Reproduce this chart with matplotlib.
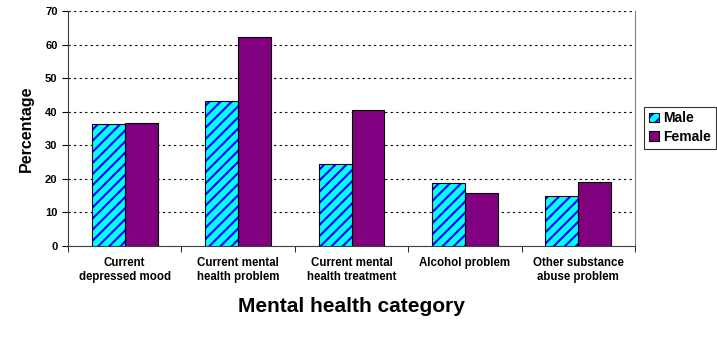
import matplotlib.pyplot as plt
import numpy as np

plt.rcParams['font.family'] = ['Liberation Sans', 'DejaVu Sans']
plt.rcParams['hatch.linewidth'] = 1.5

categories = ["Current\ndepressed mood", "Current mental\nhealth problem",
              "Current mental\nhealth treatment", "Alcohol problem",
              "Other substance\nabuse problem"]
male = [36.3, 43.3, 24.5, 18.7, 15.0]
female = [36.6, 62.4, 40.6, 15.7, 19.2]

fig = plt.figure(figsize=(7.17, 3.44), dpi=100)
ax = fig.add_axes([68 / 717, 1 - 246 / 344, (635 - 68) / 717, (246 - 11) / 344])

x = np.arange(len(categories))
w = 0.29
# hatched fill with blue stripes, then black outline on top
male_fill = ax.bar(x - w / 2, male, w, color='#00FFFF', edgecolor='#0000FF',
                   linewidth=0, hatch='///', zorder=3)
male_edge = ax.bar(x - w / 2, male, w, fill=False, edgecolor='black',
                   linewidth=0.8, zorder=4)
female_bars = ax.bar(x + w / 2, female, w, color='#800080', edgecolor='black',
                     linewidth=0.8, zorder=3)

ax.set_xlim(-0.5, len(categories) - 0.5)
ax.set_ylim(0, 70)
ax.set_yticks(np.arange(0, 71, 10))
ax.yaxis.grid(True, linestyle=(0, (2, 3)), color='black', linewidth=0.8)
ax.set_axisbelow(True)

ax.set_xticks(x)
ax.set_xticklabels(categories, fontsize=8.3, fontweight='bold')
ax.tick_params(axis='x', which='major', length=0, pad=8)
ax.set_xticks(np.arange(-0.5, len(categories), 1), minor=True)
ax.tick_params(axis='x', which='minor', length=4, color='black')
ax.tick_params(axis='y', labelsize=8, length=4)
for lbl in ax.get_yticklabels():
    lbl.set_fontweight('bold')

ax.spines['top'].set_visible(False)
ax.spines['right'].set_color('#808080')
ax.spines['left'].set_color('#404040')
ax.spines['bottom'].set_color('#404040')

ax.set_ylabel('Percentage', fontsize=11.5, fontweight='bold', labelpad=8)
ax.set_xlabel('Mental health category', fontsize=15, fontweight='bold', labelpad=10)

leg = ax.legend([(male_fill, male_edge), female_bars], ['Male', 'Female'],
                loc='center left', bbox_to_anchor=(1.016, 0.504), fontsize=10,
                frameon=True, fancybox=False, edgecolor='black',
                handlelength=0.7, handleheight=0.7, handletextpad=0.3,
                borderpad=0.35, labelspacing=0.3, borderaxespad=0)
leg.get_frame().set_linewidth(0.8)
for t in leg.get_texts():
    t.set_fontweight('bold')

fig.savefig('out.png', dpi=100)
